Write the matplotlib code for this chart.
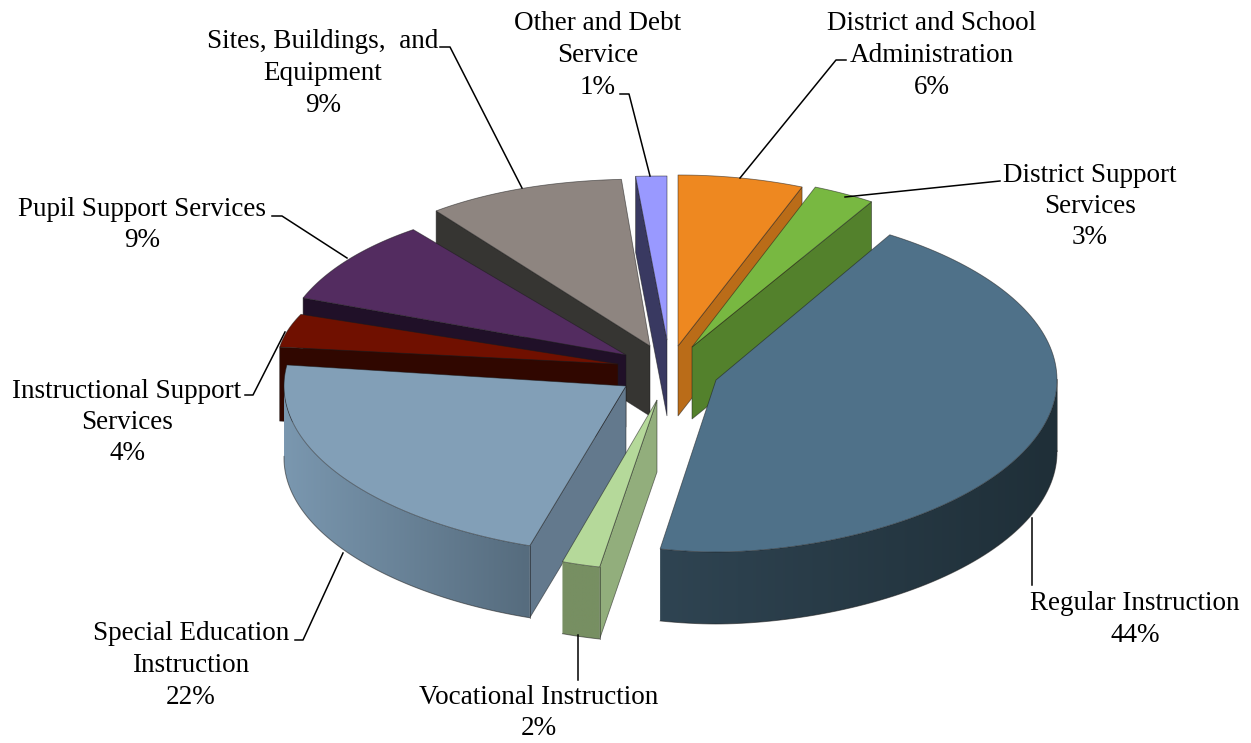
import numpy as np
import matplotlib
matplotlib.use("Agg")
import matplotlib.pyplot as plt
from matplotlib.colors import to_rgb
from matplotlib.patches import Polygon

plt.rcParams["font.family"] = ["Liberation Serif", "DejaVu Serif"]

# ---------- data (clockwise from 12 o'clock) ----------
names = [
    "District and School\nAdministration",
    "District Support\nServices",
    "Regular Instruction",
    "Vocational Instruction",
    "Special Education\nInstruction",
    "Instructional Support\nServices",
    "Pupil Support Services",
    "Sites, Buildings,  and\nEquipment",
    "Other and Debt\nService",
]
percent = [6, 3, 44, 2, 22, 4, 9, 9, 1]

# ---------- look of each slice ----------
top_col = ["#EE8820", "#78B841", "#4F7189", "#B5D99A", "#829FB7", "#701000", "#532C60", "#8E8580", "#9999FF"]
cut_col = ["#BA6C18", "#53812C", "#2F4452", "#92AE7C", "#63798D", "#300700", "#201028", "#363532", "#393961"]
arc_left = ["#BA6C18", "#53812C", "#2F4452", "#778F62", "#7A97AF", "#300700", "#201028", "#363532", "#393961"]
arc_right = ["#BA6C18", "#53812C", "#1F2F38", "#778F62", "#566C7E", "#300700", "#201028", "#363532", "#393961"]
tip_x = [678, 692, 716, 657, 626, 618, 626, 650, 667]
tip_y = [346, 347, 380, 400, 386, 364, 355, 346, 340]
rad_x = [337, 335, 341, 306, 342, 341, 345, 345, 500]
rad_y = [171, 172, 172, 170, 168, 135, 155, 167, 164]
warp = [1, 1, 1.08, 1, 1.08, 1, 0.91, 0.9, 1]  # rough perspective correction
height = [70, 72, 72, 72, 72, 74, 72, 70, 76]
cut_side = ["end", "end", None, "start", "start", "start", "start", "start", "start"]
draw_order = [8, 7, 6, 5, 0, 1, 4, 3, 2]

# ---------- labels ----------
label_x = [932, 1090, 1135, 539, 191, 127, 142, 323, 598]
label_y = [24, 175, 604, 697, 634, 391, 209, 42, 24]
line_gap = 31.5
leaders = [
    ([846, 836, 740], [60, 60, 178]),
    ([1000, 845], [181, 197]),
    ([1032, 1032], [585, 518]),
    ([578, 578], [635, 680]),
    ([295, 303, 343], [640, 640, 553]),
    ([245, 253, 285], [395, 395, 332]),
    ([272, 282, 347], [216, 216, 258]),
    ([440, 450, 522], [47, 47, 188]),
    ([620, 629, 650], [94, 94, 176]),
]

# ---------- angles ----------
frac = np.cumsum([0] + percent) / np.sum(percent) * 2 * np.pi

fig = plt.figure(figsize=(12.51, 7.43), dpi=100)
ax = fig.add_axes([0, 0, 1, 1])

edge = (0.1, 0.1, 0.1, 0.55)

for z, i in enumerate(draw_order):
    cx, cy, rx, ry, h = tip_x[i], tip_y[i], rad_x[i], rad_y[i], height[i]
    t = np.linspace(frac[i], frac[i + 1], 120)
    ex = cx + rx * np.sign(np.sin(t)) * np.abs(np.sin(t)) ** warp[i]
    ey = cy - ry * np.cos(t)

    # cut face
    if cut_side[i] is not None:
        k = 0 if cut_side[i] == "start" else -1
        ax.fill(
            [cx, ex[k], ex[k], cx],
            [cy, ey[k], ey[k] + h, cy + h],
            facecolor=cut_col[i],
            edgecolor=edge,
            lw=0.6,
            zorder=z * 3 + 1,
        )

    # outer wall, only the part facing the viewer
    vis = np.cos(t) <= 0.02
    if vis.sum() > 1:
        vx = ex[vis]
        vy = ey[vis]
        wall = Polygon(
            np.c_[np.r_[vx, vx[::-1]], np.r_[vy, vy[::-1] + h]],
            closed=True,
            transform=ax.transData,
        )
        shade = np.linspace(to_rgb(arc_left[i]), to_rgb(arc_right[i]), 64)[np.newaxis, :, :]
        im = ax.imshow(
            shade,
            extent=(vx.min(), vx.max(), vy.max() + h, vy.min()),
            aspect="auto",
            interpolation="bilinear",
            zorder=z * 3 + 2,
        )
        im.set_clip_path(wall)
        ax.plot(vx, vy + h, color=edge, lw=0.7, zorder=z * 3 + 2)
        ax.plot([vx[0], vx[0]], [vy[0], vy[0] + h], color=edge, lw=0.6, zorder=z * 3 + 2)

    # top
    ax.fill(
        np.r_[cx, ex],
        np.r_[cy, ey],
        facecolor=top_col[i],
        edgecolor=edge,
        lw=0.6,
        zorder=z * 3 + 3,
    )

ax.set_xlim(0, 1251)
ax.set_ylim(743, 0)
ax.axis("off")

# ---------- text ----------
for i in range(len(names)):
    lines = names[i].split("\n") + ["%d%%" % percent[i]]
    for n, line in enumerate(lines):
        ax.text(
            label_x[i],
            label_y[i] + n * line_gap,
            line,
            ha="center",
            va="center",
            fontsize=19.5,
            color="black",
            zorder=100,
        )
    ax.plot(leaders[i][0], leaders[i][1], color="black", lw=1.1, zorder=90)

fig.savefig("out.png", dpi=100)
